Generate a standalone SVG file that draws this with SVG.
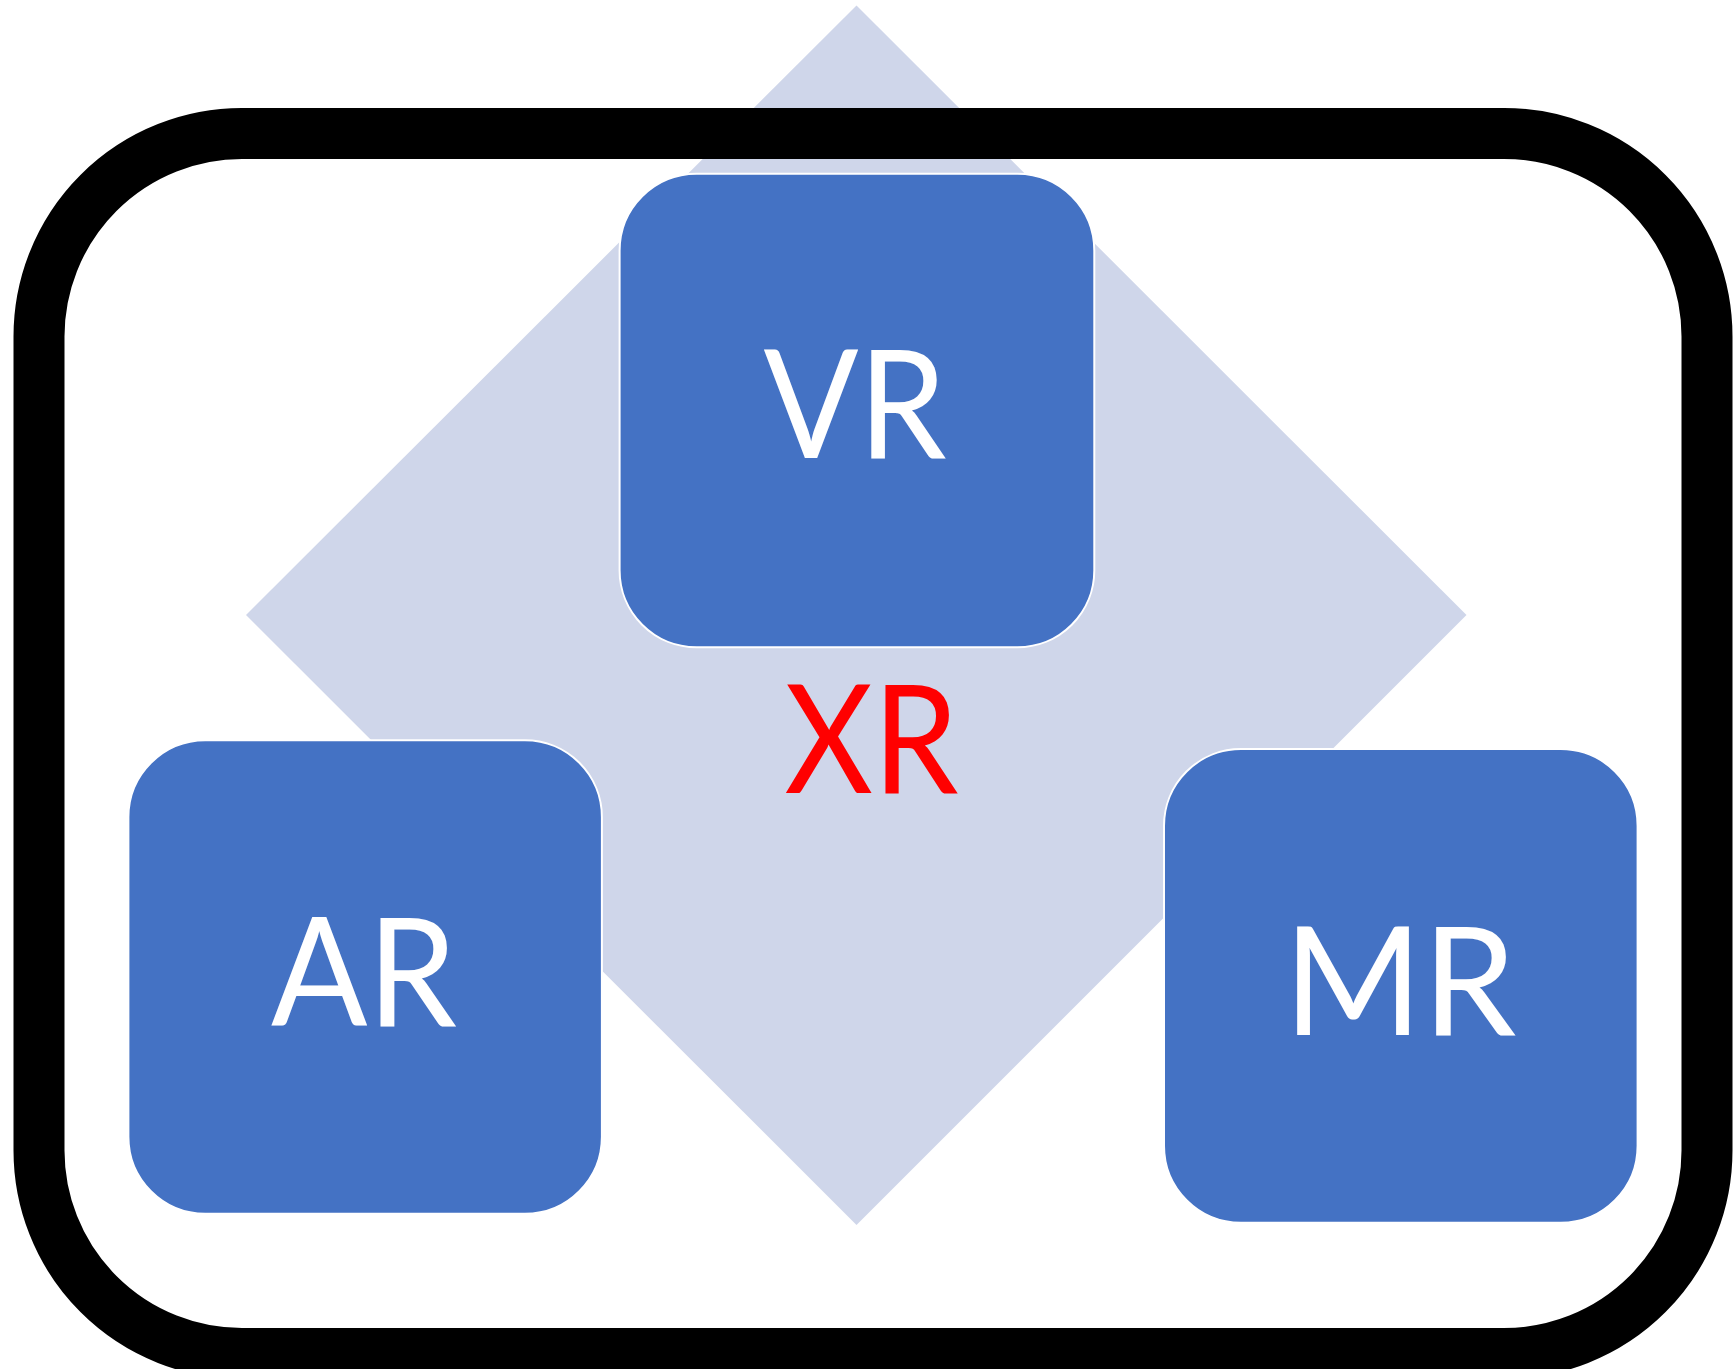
<svg xmlns="http://www.w3.org/2000/svg" width="1735" height="1369" viewBox="0 0 1735 1369">
<style>
.box{fill:#4472C4;stroke:#FFFFFF;stroke-width:2}
.lbl{font-family:Lato,"Liberation Sans",sans-serif;font-size:152px;text-anchor:middle;fill:#FFFFFF}
</style>
<rect x="0" y="0" width="1735" height="1369" fill="#FFFFFF"/>
<g id="diamond"><polygon points="856.5,5.5 1466.5,615 856.5,1225 246,615" fill="#CFD6EA"/></g>
<g id="frame"><rect x="39" y="133.5" width="1668" height="1220" rx="203" ry="203" fill="none" stroke="#000000" stroke-width="51"/></g>
<g id="connectors"></g>
<g id="vr"><rect class="box" x="619.6" y="173.7" width="474.7" height="473.6" rx="77" ry="77"/><text class="lbl" x="855" y="458" textLength="183" lengthAdjust="spacingAndGlyphs">VR</text></g>
<g id="ar"><rect class="box" x="128.4" y="740.2" width="473.5" height="473.6" rx="77" ry="77"/><text class="lbl" x="364" y="1025.7" textLength="186" lengthAdjust="spacingAndGlyphs">AR</text></g>
<g id="mr"><rect class="box" x="1164" y="749" width="473.6" height="473.7" rx="77" ry="77"/><text class="lbl" x="1400" y="1034.6" textLength="233" lengthAdjust="spacingAndGlyphs">MR</text></g>
<g id="xr"><text class="lbl" x="871.5" y="793" textLength="174" lengthAdjust="spacingAndGlyphs" style="fill:#FF0000">XR</text></g>
</svg>
